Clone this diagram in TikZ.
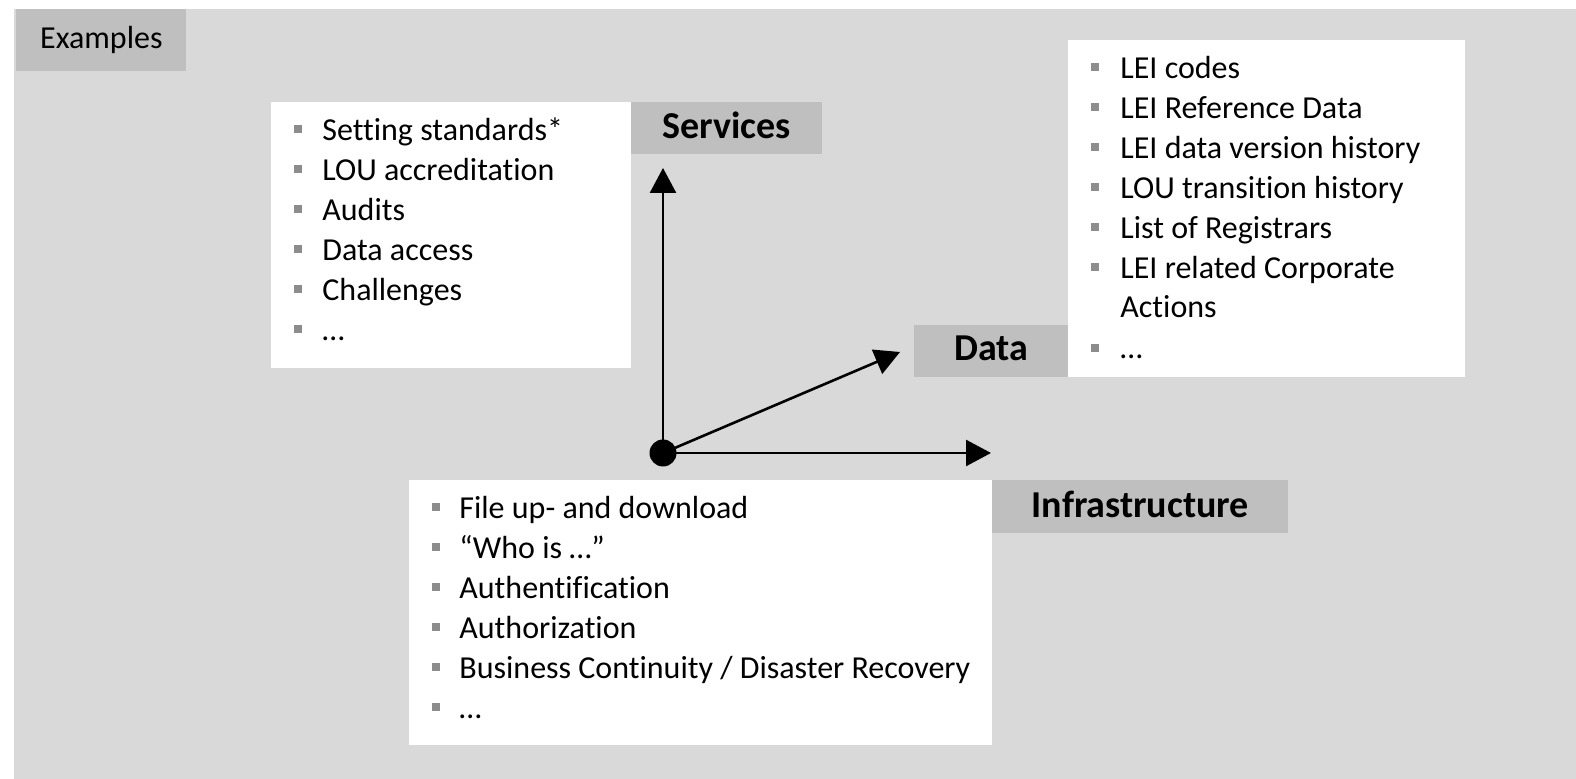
\documentclass[tikz,border=0pt]{standalone}
\usepackage{fontspec}
\setmainfont{Carlito}[Ligatures=NoCommon]
\usetikzlibrary{arrows.meta,positioning}
\definecolor{bggray}{HTML}{D9D9D9}
\definecolor{tabgray}{HTML}{BFBFBF}
\definecolor{bulgray}{HTML}{8C8C8C}
\tikzset{>={Triangle[length=12.5pt,width=13pt]}}
\tikzset{listbox/.style={fill=white, inner sep=0, anchor=north west}}
\tikzset{tab/.style={fill=tabgray, inner sep=0, anchor=north west, text depth=3pt, font=\fontsize{19}{22}\selectfont\bfseries}}
\tikzset{entry/.style={anchor=base west, inner sep=0, font=\fontsize{16}{19}\selectfont}}
\tikzset{bul/.style={fill=bulgray, inner sep=0, minimum size=4pt}}
\tikzset{axis/.style={line width=1.3pt, ->}}

\begin{document}
\begin{tikzpicture}[x=0.5pt,y=-0.5pt]
      \useasboundingbox (0,0) rectangle (1576,779);
      \fill[bggray] (14,9) rectangle (1576,779);
      \node[tab, font=\fontsize{16}{19}\selectfont, minimum width=85pt, minimum height=31pt] (examples) at (16,9) {Examples};
      \node[listbox, minimum width=180pt, minimum height=133pt] (svclist) at (271,102) {};
      \node[listbox, minimum width=198.5pt, minimum height=168.5pt] (datalist) at (1068,40) {};
      \node[listbox, minimum width=291.5pt, minimum height=132.5pt] (infralist) at (409,480) {};
      \node[tab, minimum width=95.5pt, minimum height=26pt] (services) at (631,102) {Services};
      \node[tab, minimum width=77pt, minimum height=26pt] (data) at (914,325) {Data};
      \node[tab, minimum width=148pt, minimum height=26.5pt] (infra) at (992,480) {Infrastructure};
      \foreach \txt [count=\i from 0] in {Setting standards*, LOU accreditation, Audits, Data access, Challenges, …} {
        \node[entry] (svc\i) at (322,{141+40*\i}) {\txt};
        \node[bul] at (298,{129+40*\i}) {};
      }
      \foreach \txt [count=\i from 0] in {LEI codes, LEI Reference Data, LEI data version history, LOU transition history, List of Registrars, LEI related Corporate} {
        \node[entry] (dat\i) at (1120,{79+40*\i}) {\txt};
        \node[bul] at (1095,{67+40*\i}) {};
      }
      \node[entry] (dat6) at (1120,318) {Actions};
      \node[entry] (dat7) at (1120,359) {…};
      \node[bul] at (1095,348) {};
      \foreach \txt [count=\i from 0] in {File up- and download, “Who is …”, Authentification, Authorization, Business Continuity / Disaster Recovery, …} {
        \node[entry] (inf\i) at (459,{519+40*\i}) {\txt};
        \node[bul] at (436,{507+40*\i}) {};
      }
      \coordinate (svctip) at (663,168);
      \coordinate (datatip) at (900,352);
      \coordinate (infratip) at (991,453);
      \node[circle, fill=black, inner sep=0, minimum size=13.5pt] (o) at (663,453) {};
      \draw[axis] (o.center) -- (svctip);
      \draw[axis] (o.center) -- (datatip);
      \draw[axis] (o.center) -- (infratip);
    \end{tikzpicture}
\end{document}
